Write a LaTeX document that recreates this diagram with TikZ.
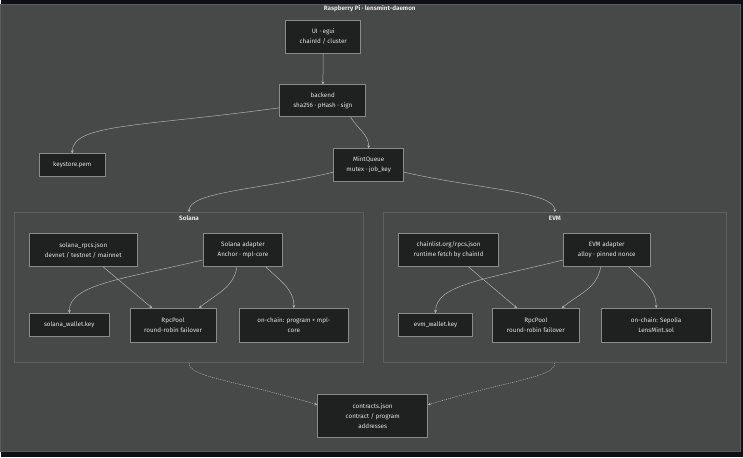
\documentclass[tikz,border=0pt]{standalone}
\usepackage{fontspec}
\setmainfont{Fira Sans}
\usetikzlibrary{arrows.meta,positioning}

\definecolor{pagebg}{HTML}{0D1117}
\definecolor{canvas}{HTML}{474848}
\definecolor{canvasline}{HTML}{5A5B5B}
\definecolor{boxfill}{HTML}{1F2020}
\definecolor{boxline}{HTML}{8A8A8A}
\definecolor{groupline}{HTML}{5E5F5F}
\definecolor{wire}{HTML}{B0B0B0}
\definecolor{label}{HTML}{E4E4E4}

\tikzset{
  daemon/.style={
    every node/.style={font=\fontsize{6.3}{10}\selectfont, text=label},
    box/.style={
        draw=boxline,
        fill=boxfill,
        line width=0.8pt,
        align=center,
        inner sep=0pt,
    },
    group/.style={
        draw=groupline,
        line width=0.8pt,
        inner sep=0pt,
    },
  }
}

\begin{document}
\begin{tikzpicture}[x=1pt, y=-1pt, daemon]
        \tikzstyle{edge}=[draw=wire, line width=0.5pt, -{Stealth[length=3pt,width=3pt]}]
        \tikzstyle{link}=[edge, dash pattern=on 1.2pt off 1pt]
        \tikzstyle{heading}=[font=\fontsize{6.3}{10}\selectfont\bfseries]

        % page and canvas
        \fill[pagebg] (0,0) rectangle (743,458);
        \filldraw[fill=canvas, draw=canvasline, line width=0.8pt] (-1,4) rectangle (740,452);

        \node[heading] (title) at (369,9) {Raspberry Pi · lensmint-daemon};

        % the two chain groups
        \node[group, minimum width=350pt, minimum height=150pt] (solana) at (188,288) {};
        \node[group, minimum width=343pt, minimum height=150pt] (evm) at (554.5,288) {};
        \node[heading] (solanaT) at (188,218.5) {Solana};
        \node[heading] (evmT) at (554.5,218.5) {EVM};

        % top part
        \node[box, minimum width=75pt, minimum height=33pt] (ui) at (322.5,36.5) {UI · egui\\chainId / cluster};
        \node[box, minimum width=86pt, minimum height=32pt] (backend) at (322,101) {backend\\sha256 · pHash · sign};
        \node[box, minimum width=66pt, minimum height=23pt] (keystore) at (71,165.5) {keystore.pem};
        \node[box, minimum width=70pt, minimum height=33pt] (queue) at (368,165.5) {MintQueue\\mutex · job\_key};

        % Solana
        \node[box, minimum width=108pt, minimum height=33pt] (srpcs) at (82,250.5) {solana\_rpcs.json\\devnet / testnet / mainnet};
        \node[box, minimum width=80pt, minimum height=33pt] (sadapter) at (242,250.5) {Solana adapter\\Anchor · mpl-core};
        \node[box, minimum width=80pt, minimum height=23pt] (swallet) at (68,325.5) {solana\_wallet.key};
        \node[box, minimum width=86pt, minimum height=34pt] (spool) at (172,326) {RpcPool\\round-robin failover};
        \node[box, minimum width=110pt, minimum height=34pt] (schain) at (293,326) {on-chain: program + mpl-\\core};

        % EVM
        \node[box, minimum width=100pt, minimum height=33pt] (erpcs) at (448,250.5) {chainlist.org/rpcs.json\\runtime fetch by chainId};
        \node[box, minimum width=87pt, minimum height=33pt] (eadapter) at (606.5,250.5) {EVM adapter\\alloy · pinned nonce};
        \node[box, minimum width=74pt, minimum height=23pt] (ewallet) at (435,325.5) {evm\_wallet.key};
        \node[box, minimum width=87pt, minimum height=34pt] (epool) at (535.5,326) {RpcPool\\round-robin failover};
        \node[box, minimum width=110pt, minimum height=34pt] (echain) at (656,326) {on-chain: Sepolia\\LensMint.sol};

        \node[box, minimum width=110pt, minimum height=43pt] (contracts) at (372,416.5) {contracts.json\\contract / program\\addresses};

        % connectors
        \draw[edge] (ui) -- (backend);
        \draw[edge] ([yshift=-7pt]backend.west) .. controls (140,127) and (71,124) .. (keystore.north);
        \draw[edge] ([xshift=28pt]backend.south) to[out=-60,in=90] (queue.north);
        \draw[edge] ([yshift=-7pt]queue.west) .. controls (260,190) and (188,192) .. (solana.north);
        \draw[edge] ([yshift=-7pt]queue.east) .. controls (480,190) and (555,192) .. (evm.north);

        \draw[edge] ([xshift=20pt]srpcs.south) -- ([xshift=-21pt]spool.north);
        \draw[edge] ([yshift=-10pt]sadapter.west) .. controls (120,280) and (68,285) .. (swallet.north);
        \draw[edge] ([xshift=-6pt]sadapter.south) to[out=-100,in=40] ([xshift=26pt]spool.north);
        \draw[edge] ([xshift=23pt]sadapter.south) to[out=-45,in=90] (schain.north);

        \draw[edge] ([xshift=20pt]erpcs.south) -- ([xshift=-19pt]epool.north);
        \draw[edge] ([yshift=-10pt]eadapter.west) .. controls (485,280) and (435,285) .. (ewallet.north);
        \draw[edge] ([xshift=-6pt]eadapter.south) to[out=-100,in=40] ([xshift=26pt]epool.north);
        \draw[edge] ([xshift=22pt]eadapter.south) to[out=-45,in=90] (echain.north);

        \draw[link] (solana.south) .. controls (188,378) and (230,380) .. ([yshift=11pt]contracts.west);
        \draw[link] (evm.south) .. controls (554.5,378) and (513,380) .. ([yshift=11pt]contracts.east);
\end{tikzpicture}
\end{document}
